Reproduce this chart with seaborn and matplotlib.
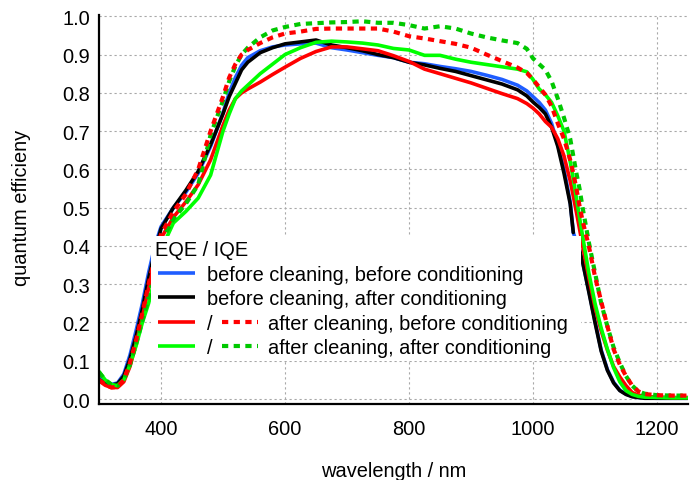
import numpy as np
import pandas as pd
import matplotlib
matplotlib.use("Agg")
import matplotlib.pyplot as plt
import seaborn as sns
from matplotlib.lines import Line2D
from matplotlib.text import Text
from matplotlib.ticker import FixedLocator, FixedFormatter

nan = np.nan

# ---------------- data ----------------
wavelength = [300, 310, 320, 330, 340, 350, 360, 370, 380, 390,
              400, 420, 440, 460, 480, 500, 510, 520, 530, 540,
              560, 580, 600, 625, 650, 675, 700, 725, 750, 775,
              800, 825, 850, 875, 900, 925, 950, 975, 990, 1000,
              1010, 1020, 1030, 1040, 1050, 1060, 1065, 1070, 1075, 1080,
              1090, 1100, 1110, 1120, 1130, 1140, 1150, 1160, 1170, 1180,
              1200, 1225, 1250]

# before cleaning, before conditioning (EQE)
eqe_bc_bc = [0.055, 0.045, 0.038, 0.042, 0.065, 0.115, 0.18, 0.25, 0.33, 0.40,
             0.45, 0.50, 0.54, 0.59, 0.66, 0.748, 0.80, 0.84, 0.872, 0.892,
             0.91, 0.92, 0.925, 0.928, 0.93, 0.918, 0.912, 0.905, 0.898, 0.892,
             0.88, 0.876, 0.869, 0.863, 0.856, 0.846, 0.835, 0.82, 0.805, 0.79,
             0.775, 0.755, 0.72, 0.665, 0.60, 0.515, 0.435, 0.41, 0.39, 0.358,
             0.283, 0.203, 0.128, 0.077, 0.044, 0.023, 0.013, 0.007, 0.004, 0.003,
             0.002, 0.002, 0.002]

# before cleaning, after conditioning (EQE)
eqe_bc_ac = [0.05, 0.042, 0.036, 0.04, 0.06, 0.105, 0.165, 0.235, 0.315, 0.385,
             0.445, 0.50, 0.545, 0.595, 0.665, 0.745, 0.79, 0.825, 0.86, 0.88,
             0.905, 0.918, 0.928, 0.933, 0.938, 0.925, 0.918, 0.91, 0.90, 0.892,
             0.88, 0.873, 0.864, 0.856, 0.845, 0.834, 0.823, 0.808, 0.792, 0.776,
             0.762, 0.745, 0.71, 0.66, 0.59, 0.51, 0.435, nan, 0.39, 0.358,
             0.28, 0.20, 0.125, 0.075, 0.042, 0.022, 0.012, 0.006, 0.004, 0.002,
             0.002, 0.002, 0.002]

# after cleaning, before conditioning (EQE / IQE)
eqe_ac_bc = [0.048, 0.036, 0.03, 0.03, 0.045, 0.085, 0.145, 0.215, 0.29, 0.36,
             0.42, 0.475, 0.515, 0.56, 0.625, 0.715, 0.755, 0.785, 0.80, 0.81,
             0.828, 0.848, 0.867, 0.89, 0.908, 0.92, 0.92, 0.915, 0.91, 0.897,
             0.882, 0.862, 0.85, 0.838, 0.826, 0.812, 0.798, 0.785, 0.772, 0.76,
             0.745, 0.725, 0.71, 0.68, 0.635, 0.57, 0.53, 0.488, 0.445, 0.40,
             0.318, 0.24, 0.178, 0.128, 0.085, 0.058, 0.035, 0.017, 0.01, 0.007,
             0.005, 0.004, 0.004]
iqe_ac_bc = [0.05, 0.038, 0.03, 0.032, 0.05, 0.095, 0.155, 0.225, 0.30, 0.37,
             0.43, 0.49, 0.535, 0.60, 0.70, 0.79, 0.84, 0.875, 0.90, 0.912,
             0.93, 0.945, 0.955, 0.96, 0.967, 0.968, 0.968, 0.968, 0.968, 0.96,
             0.948, 0.942, 0.935, 0.928, 0.918, 0.90, 0.883, 0.866, 0.852, 0.835,
             0.815, 0.795, 0.765, 0.72, 0.68, 0.625, 0.59, 0.55, 0.505, 0.465,
             0.40, 0.32, 0.255, 0.19, 0.13, 0.09, 0.06, 0.035, 0.02, 0.013,
             0.01, 0.009, 0.009]

# after cleaning, after conditioning (EQE / IQE)
eqe_ac_ac = [0.072, 0.05, 0.038, 0.035, 0.05, 0.09, 0.14, 0.20, 0.25, 0.315,
             0.39, 0.46, 0.49, 0.525, 0.585, 0.70, 0.745, 0.785, 0.805, 0.82,
             0.85, 0.875, 0.90, 0.918, 0.932, 0.935, 0.933, 0.93, 0.925, 0.916,
             0.912, 0.898, 0.898, 0.888, 0.88, 0.874, 0.868, 0.862, 0.855, 0.835,
             0.81, 0.795, 0.775, 0.74, 0.70, 0.62, 0.575, 0.525, 0.475, 0.426,
             0.33, 0.25, 0.185, 0.13, 0.082, 0.045, 0.022, 0.012, 0.007, 0.005,
             0.004, 0.003, 0.003]
iqe_ac_ac = [0.07, 0.05, 0.038, 0.035, 0.05, 0.09, 0.145, 0.205, 0.265, 0.34,
             0.41, 0.47, 0.51, 0.56, 0.69, 0.78, 0.83, 0.87, 0.90, 0.918,
             0.945, 0.963, 0.972, 0.98, 0.982, 0.984, 0.985, 0.987, 0.983, 0.983,
             0.977, 0.968, 0.974, 0.968, 0.955, 0.945, 0.937, 0.93, 0.915, 0.89,
             0.875, 0.86, 0.83, 0.785, 0.735, 0.68, 0.635, 0.59, 0.55, 0.50,
             0.41, 0.33, 0.25, 0.19, 0.135, 0.095, 0.06, 0.035, 0.02, 0.014,
             0.01, 0.009, 0.009]

legend_labels = ["before cleaning, before conditioning",
                 "before cleaning, after conditioning",
                 "after cleaning, before conditioning",
                 "after cleaning, after conditioning"]
legend_title = "EQE / IQE"
x_ticks = [400, 600, 800, 1000, 1200]
x_tick_labels = ["400", "600", "800", "1000", "1200"]
y_ticks = [0.0, 0.1, 0.2, 0.3, 0.4, 0.5, 0.6, 0.7, 0.8, 0.9, 1.0]
y_tick_labels = ["0.0", "0.1", "0.2", "0.3", "0.4", "0.5", "0.6", "0.7", "0.8", "0.9", "1.0"]
x_label = "wavelength / nm"
y_label = "quantum efficieny"

# ---------------- style ----------------
BLUE = "#1f5dff"
BLACK = "#000000"
RED = "#ff0000"
GREEN = "#00ff00"
GREEN_D = "#00c800"
SOLID_LW = 2.6
DASH_LW = 3.0
DASH = (0, (1.5, 1.3))
FS = 14.4

sns.set_theme(style="white")
plt.rcParams["font.family"] = ["Liberation Sans", "DejaVu Sans"]
plt.rcParams["text.color"] = "black"
plt.rcParams["axes.labelcolor"] = "black"

fig = plt.figure(figsize=(6.96, 4.81), dpi=100)
fig.patch.set_facecolor("white")
ax = fig.add_axes([99 / 696, 1 - 405 / 481, (688 - 99) / 696, (405 - 15.5) / 481])
ax.set_facecolor("white")

series = [
    (eqe_bc_bc, BLUE, "-", SOLID_LW),
    (eqe_bc_ac, BLACK, "-", SOLID_LW),
    (eqe_ac_bc, RED, "-", SOLID_LW),
    (eqe_ac_ac, GREEN, "-", SOLID_LW),
    (iqe_ac_ac, GREEN_D, DASH, DASH_LW),
    (iqe_ac_bc, RED, DASH, DASH_LW),
]

for vals, color, ls, lw in series:
    df = pd.DataFrame({"wl": wavelength, "q": vals})
    df["seg"] = np.cumsum(df["q"].isna().to_numpy())
    df = df.dropna()
    sns.lineplot(data=df, x="wl", y="q", units="seg", estimator=None,
                 sort=False, ax=ax, color=color, linewidth=lw, linestyle=ls,
                 legend=False)

ax.set_xlim(300, 1250)
ax.set_ylim(-0.013, 1.0047)
ax.xaxis.set_major_locator(FixedLocator(x_ticks))
ax.xaxis.set_major_formatter(FixedFormatter(x_tick_labels))
ax.yaxis.set_major_locator(FixedLocator(y_ticks))
ax.yaxis.set_major_formatter(FixedFormatter(y_tick_labels))

ax.grid(True, color="#a8a8a8", linewidth=0.8, linestyle=(0, (2, 2.5)))
ax.set_axisbelow(True)
for s in ["top", "right"]:
    ax.spines[s].set_visible(False)
for s in ["left", "bottom"]:
    ax.spines[s].set_color("black")
    ax.spines[s].set_linewidth(1.6)

ax.tick_params(axis="both", direction="in", length=11, width=1.5,
               color="black", labelcolor="black", labelsize=FS)
ax.tick_params(axis="x", pad=10.5)
ax.tick_params(axis="y", pad=6.5)

ax.set_xlabel(x_label, fontsize=FS)
ax.set_ylabel(y_label, fontsize=FS)
ax.xaxis.set_label_coords(0.5, -0.146)
ax.yaxis.set_label_coords(-0.115, 0.505)


# ---------------- legend ----------------
class RowHandler:
    def __init__(self, text, color, dash_color=None):
        self.text = text
        self.color = color
        self.dash_color = dash_color

    def legend_artist(self, legend, orig_handle, fontsize, handlebox):
        h = handlebox.height
        yd = handlebox.ydescent
        y = (h - yd) / 2.0
        line = Line2D([2.2, 28.8], [y, y], color=self.color, lw=SOLID_LW,
                      solid_capstyle="butt")
        handlebox.add_artist(line)
        if self.dash_color is None:
            tx = 37.4
        else:
            handlebox.add_artist(Text(37.4, 0, "/", fontsize=fontsize,
                                      va="baseline", ha="left", color="black"))
            dl = Line2D([48.2, 74.2], [y, y], color=self.dash_color,
                        lw=DASH_LW, linestyle=DASH)
            handlebox.add_artist(dl)
            tx = 81.4
        t = Text(tx, 0, self.text, fontsize=fontsize, va="baseline",
                 ha="left", color="black")
        handlebox.add_artist(t)
        return line


proxies = [Line2D([], []) for _ in range(4)]
handlers = [RowHandler(legend_labels[0], BLUE),
            RowHandler(legend_labels[1], BLACK),
            RowHandler(legend_labels[2], RED, RED),
            RowHandler(legend_labels[3], GREEN, GREEN_D)]
hmap = {p: hd for p, hd in zip(proxies, handlers)}

leg = ax.legend(handles=proxies, labels=[""] * 4, handler_map=hmap,
                title=legend_title, alignment="left",
                loc="upper left", bbox_to_anchor=((151 - 99) / 589, (405 - 237) / 389.5),
                bbox_transform=ax.transAxes,
                handlelength=21.1, handletextpad=0.0, borderpad=0.2,
                borderaxespad=0.0, labelspacing=0.28,
                frameon=True, fancybox=False, framealpha=1.0,
                facecolor="white", edgecolor="none",
                fontsize=FS, title_fontsize=FS)
leg.get_title().set_color("black")

fig.savefig("out.png", dpi=100, facecolor="white")
